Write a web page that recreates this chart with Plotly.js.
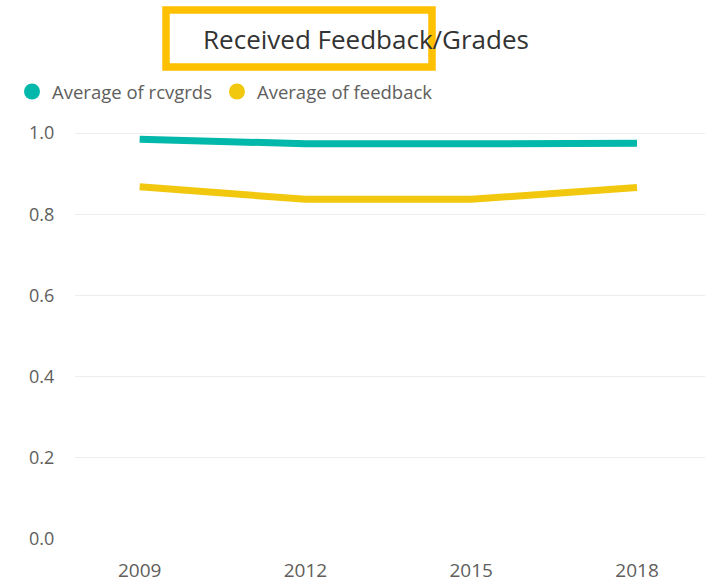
<!DOCTYPE html>
<html>
<head>
<meta charset="utf-8">
<script src="https://cdn.plot.ly/plotly-3.0.1.min.js"></script>
<style>html,body{margin:0;padding:0;background:#fff;}#chart{width:718px;height:585px;}</style>
</head>
<body>
<div id="chart"></div>
<script>
var years = ['2009', '2012', '2015', '2018'];
var rcvgrds = [0.985, 0.974, 0.974, 0.975];
var feedback = [0.868, 0.837, 0.837, 0.866];
var seriesNames = ['Average of rcvgrds', 'Average of feedback'];
var seriesColors = ['#01B8AA', '#F2C80F'];
var yTicks = [0, 0.2, 0.4, 0.6, 0.8, 1.0];
var yTickLabels = ['0.0', '0.2', '0.4', '0.6', '0.8', '1.0'];

var FONT = 'Segoe UI, Open Sans, sans-serif';
var values = [rcvgrds, feedback];
var traces = [];
values.forEach(function (v, i) {
  traces.push({
    type: 'scatter', mode: 'lines', x: years, y: v,
    line: {color: seriesColors[i], width: 7, shape: 'linear'},
    showlegend: false, hoverinfo: 'x+y', name: seriesNames[i]
  });
});
values.forEach(function (v, i) {
  traces.push({
    type: 'scatter', mode: 'markers', x: [years[0]], y: [null],
    marker: {color: seriesColors[i], size: 17, symbol: 'circle'},
    name: seriesNames[i], showlegend: true, hoverinfo: 'skip'
  });
});

var L = 75, R = 705, T = 121, B = 539;
function px(x) { return (x - L) / (R - L); }
function py(y) { return (B - y) / (B - T); }

var layout = {
  width: 718, height: 585,
  margin: {l: L, r: 718 - R, t: T, b: 585 - B, pad: 0},
  paper_bgcolor: '#ffffff', plot_bgcolor: '#ffffff',
  font: {family: FONT, color: '#605E5C'},
  title: {
    text: 'Received Feedback/Grades',
    font: {family: FONT, size: 26, color: '#333333'},
    xref: 'container', yref: 'container', x: 366 / 718, xanchor: 'center',
    y: 1 - 40 / 585, yanchor: 'middle'
  },
  showlegend: true,
  legend: {
    orientation: 'h', xref: 'container', yref: 'container',
    x: 12 / 718, xanchor: 'left', y: 1 - 92 / 585, yanchor: 'middle',
    font: {family: FONT, size: 18.5, color: '#605E5C'},
    itemsizing: 'trace', bgcolor: 'rgba(0,0,0,0)', tracegroupgap: 0,
    itemclick: false, itemdoubleclick: false
  },
  xaxis: {
    type: 'category', range: [-0.39, 3.41], showgrid: false, zeroline: false,
    showline: false, ticks: 'outside', ticklen: 14, tickcolor: 'rgba(0,0,0,0)',
    tickfont: {family: FONT, size: 19, color: '#605E5C'}, fixedrange: true
  },
  yaxis: {
    range: [0, 1.03], tickvals: yTicks, ticktext: yTickLabels,
    showgrid: true, gridcolor: '#EDEDED', gridwidth: 1, zeroline: false,
    showline: false, ticks: 'outside', ticklen: 16, tickcolor: 'rgba(0,0,0,0)',
    tickfont: {family: FONT, size: 18, color: '#605E5C'}, fixedrange: true
  },
  shapes: [{
    type: 'rect', xref: 'paper', yref: 'paper', layer: 'above',
    x0: px(166), x1: px(432), y0: py(67), y1: py(10),
    line: {color: '#FFC000', width: 7.5}, fillcolor: 'rgba(0,0,0,0)'
  }]
};

Plotly.newPlot('chart', traces, layout, {displayModeBar: false, staticPlot: false});
</script>
</body>
</html>
